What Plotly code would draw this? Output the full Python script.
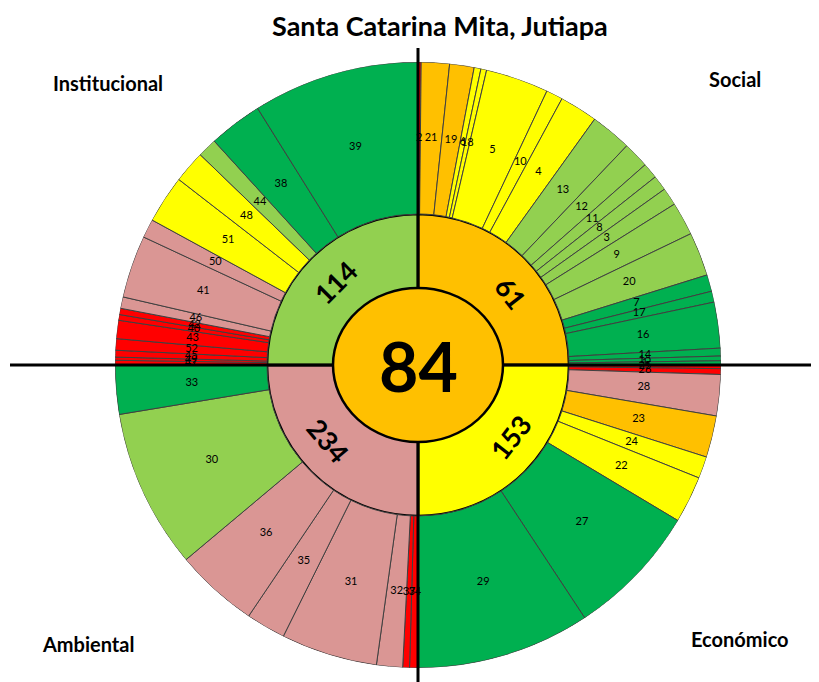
import math
import plotly.graph_objects as go

# ---------------- data ----------------
TITLE = "Santa Catarina Mita, Jutiapa"
CENTER_VALUE = 84
CENTER_LEVEL = "naranja"

dimensions = ["Social", "Económico", "Ambiental", "Institucional"]
dimension_values = [61, 153, 234, 114]
dimension_levels = ["naranja", "amarillo", "rosado", "verde claro"]

# outer ring: indicator ids, angular share (degrees of the 90° quadrant), level
social_ids = ["2", "21", "19", "6", "18", "5", "10", "4", "13", "12", "11", "8", "3",
              "9", "20", "7", "17", "16", "14", "15", "1"]
social_widths = [0.6, 5.4, 4.7, 1.3, 1.1, 12.1, 3.2, 7.3, 7.9, 5.0, 3.0, 2.9, 3.4,
                 6.4, 8.4, 3.2, 2.1, 8.8, 1.5, 0.9, 0.8]
social_levels = ["rojo", "naranja", "naranja", "amarillo", "amarillo", "amarillo",
                 "amarillo", "amarillo", "verde claro", "verde claro", "verde claro",
                 "verde claro", "verde claro", "verde claro", "verde claro", "verde",
                 "verde", "verde", "verde", "verde", "verde"]

economico_ids = ["25", "26", "28", "23", "24", "22", "27", "29"]
economico_widths = [0.7, 1.1, 7.9, 8.0, 4.2, 9.0, 25.7, 33.4]
economico_levels = ["rojo", "rojo", "rosado", "naranja", "amarillo", "amarillo",
                    "verde", "verde"]

ambiental_ids = ["34", "37", "32", "31", "35", "36", "30", "33"]
ambiental_widths = [1.6, 1.3, 5.0, 18.5, 7.6, 16.0, 30.6, 9.4]
ambiental_levels = ["rojo", "rojo", "rosado", "rosado", "rosado", "rosado",
                    "verde claro", "verde"]

institucional_ids = ["47", "49", "45", "52", "43", "40", "42", "46", "41", "50",
                     "51", "48", "44", "38", "39"]
institucional_widths = [0.9, 0.6, 1.3, 2.2, 3.5, 1.1, 1.2, 2.2, 12.0, 3.6,
                        9.2, 6.2, 3.7, 10.3, 32.0]
institucional_levels = ["rojo", "rojo", "rojo", "rojo", "rojo", "rojo", "rojo",
                        "rosado", "rosado", "rosado", "amarillo", "amarillo",
                        "verde claro", "verde", "verde"]

# ---------------- styles / geometry ----------------
LEVEL_COLORS = {
    "rojo": "#FF0000",
    "rosado": "#DA9694",
    "naranja": "#FFC000",
    "amarillo": "#FFFF00",
    "verde claro": "#92D050",
    "verde": "#00B050",
}
W, H = 819, 682
OFF = 8                    # page body margin in the browser
CX, CY = 418, 365          # centre of the wheel, pixels from top-left (screen)
R_OUT, R_MID = 303, 151    # outer radius / radius of the dimension ring
LABEL_R = 227
QUAD_LABEL_ANGLES = [52, 128, 230, 315]
QUAD_LABEL_R = 117
FONT = "Lato"


def px(x):
    return (x - OFF) / W


def py(y):
    return (H - (y - OFF)) / H


quad_ids = [social_ids, economico_ids, ambiental_ids, institucional_ids]
quad_widths = [social_widths, economico_widths, ambiental_widths, institucional_widths]
quad_levels = [social_levels, economico_levels, ambiental_levels, institucional_levels]

thetas, widths, colors, labels = [], [], [], []
for q, (ids, ws, lv) in enumerate(zip(quad_ids, quad_widths, quad_levels)):
    start = 90 * q
    for i, w, l in zip(ids, ws, lv):
        thetas.append(start + w / 2)
        widths.append(w)
        colors.append(LEVEL_COLORS[l])
        labels.append(i)
        start += w

fig = go.Figure()

# dimension ring
fig.add_trace(go.Barpolar(
    theta=[45 + 90 * k for k in range(4)], width=[90] * 4,
    r=[R_MID] * 4, base=[0] * 4,
    marker=dict(color=[LEVEL_COLORS[l] for l in dimension_levels],
                line=dict(color="black", width=2.5)),
    hoverinfo="skip", showlegend=False,
))
# outer ring
fig.add_trace(go.Barpolar(
    theta=thetas, width=widths,
    r=[R_OUT - R_MID] * len(thetas), base=[R_MID] * len(thetas),
    marker=dict(color=colors, line=dict(color="#404040", width=1)),
    hoverinfo="skip", showlegend=False,
))
# outer labels
fig.add_trace(go.Scatterpolar(
    theta=thetas, r=[LABEL_R] * len(thetas), mode="text", text=labels,
    textfont=dict(family=FONT, size=11, color="black"),
    hoverinfo="skip", showlegend=False,
))

dom_x = [px(CX - R_OUT), px(CX + R_OUT)]
dom_y = [py(CY + R_OUT), py(CY - R_OUT)]


def polar_to_paper(r, ang):
    a = math.radians(ang)
    return px(CX + r * math.sin(a)), py(CY - r * math.cos(a))


shapes = [
    # frame line at top
    dict(type="line", xref="paper", yref="paper", x0=0, x1=1,
         y0=py(3), y1=py(3), line=dict(color="#8c8c8c", width=1)),
    # black axes
    dict(type="line", xref="paper", yref="paper", x0=px(CX), x1=px(CX),
         y0=py(H + 10), y1=py(48), line=dict(color="black", width=3), layer="above"),
    dict(type="line", xref="paper", yref="paper", x0=px(10), x1=px(812),
         y0=py(CY), y1=py(CY), line=dict(color="black", width=3), layer="above"),
    # centre oval
    dict(type="circle", xref="paper", yref="paper", x0=px(333), x1=px(503),
         y0=py(442), y1=py(288),
         fillcolor=LEVEL_COLORS[CENTER_LEVEL], line=dict(color="black", width=2.5),
         layer="above"),
]

annotations = [
    dict(text=f"<b>{TITLE}</b>", x=px(440), y=py(26), xref="paper", yref="paper",
         xanchor="center", yanchor="middle", showarrow=False,
         font=dict(family=FONT, size=27, color="black")),
    dict(text=f"<b>{CENTER_VALUE}</b>", x=px(CX), y=py(CY), xref="paper",
         yref="paper", xanchor="center", yanchor="middle", showarrow=False,
         font=dict(family=FONT, size=68, color="black")),
]
for val, ang in zip(dimension_values, QUAD_LABEL_ANGLES):
    ax, ay = polar_to_paper(QUAD_LABEL_R, ang)
    ta = ang if ang <= 90 else (ang - 180 if ang < 270 else ang - 360)
    annotations.append(dict(text=f"<b>{val}</b>", x=ax, y=ay, xref="paper",
                            yref="paper", xanchor="center", yanchor="middle",
                            showarrow=False, textangle=ta,
                            font=dict(family=FONT, size=27, color="black")))

name_pos = [(735, 79), (740, 639), (88, 644), (108, 83)]
for name, (nx, ny) in zip(dimensions, name_pos):
    annotations.append(dict(text=f"<b>{name}</b>", x=px(nx), y=py(ny),
                            xref="paper", yref="paper", xanchor="center",
                            yanchor="middle", showarrow=False,
                            font=dict(family=FONT, size=20, color="black")))

fig.update_layout(
    width=W, height=H,
    margin=dict(l=0, r=0, t=0, b=0),
    paper_bgcolor="white",
    polar=dict(
        domain=dict(x=dom_x, y=dom_y),
        bgcolor="rgba(0,0,0,0)",
        barmode="overlay",
        hole=0,
        radialaxis=dict(visible=False, range=[0, R_OUT]),
        angularaxis=dict(visible=False, direction="clockwise", rotation=90),
    ),
    shapes=shapes,
    annotations=annotations,
)

fig.write_html("out.html")
